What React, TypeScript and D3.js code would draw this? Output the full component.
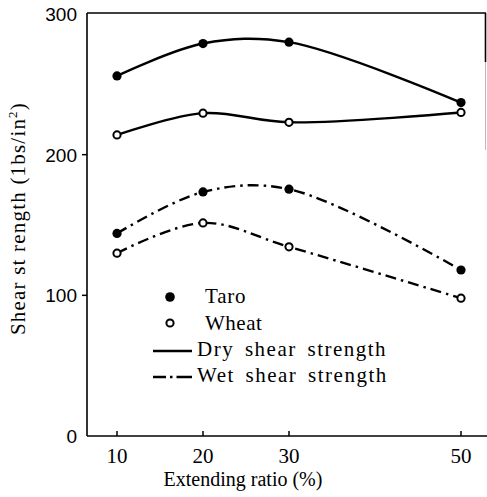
import React from "react";
import * as d3 from "d3";

const ratios = [10, 20, 30, 50];
const taroDry = [256, 279, 280, 237];
const wheatDry = [214, 229.5, 223, 230];
const taroWet = [144, 173.5, 175.5, 118];
const wheatWet = [130, 151.5, 134.5, 98];
const xTicks = [10, 20, 30, 50];
const yTicks = [0, 100, 200, 300];

const W = 487;
const H = 497;
const serif = "'Liberation Serif', 'DejaVu Serif', serif";
const sans = "'Liberation Sans', Arial, sans-serif";

export default function App() {
  const x = d3.scaleLinear().domain([10, 50]).range([117, 461]);
  const y = d3.scaleLinear().domain([0, 300]).range([436, 14]);
  const left = 87;
  const right = 486;
  const top = 13;
  const bottom = 436;

  const line = d3
    .line<[number, number]>()
    .x((d) => x(d[0]))
    .y((d) => y(d[1]))
    .curve(d3.curveCatmullRom.alpha(0.5));

  const pts = (vals: number[]) => ratios.map((r, i) => [r, vals[i]] as [number, number]);

  const series = [
    { vals: taroDry, filled: true, dash: null },
    { vals: wheatDry, filled: false, dash: null },
    { vals: taroWet, filled: true, dash: "11 5 2.5 5" },
    { vals: wheatWet, filled: false, dash: "11 5 2.5 5" },
  ];

  return (
    <svg width={W} height={H} style={{ position: "absolute", left: 0, top: 0, background: "#fff" }}>
      <rect x={0} y={0} width={W} height={H} fill="#fff" />
      {/* frame */}
      <line x1={left} y1={top} x2={right} y2={top} stroke="#000" strokeWidth={1.6} />
      <line x1={right - 0.5} y1={top} x2={right - 0.5} y2={62} stroke="#000" strokeWidth={1.6} />
      <line x1={right - 0.5} y1={62} x2={right - 0.5} y2={150} stroke="#bbb" strokeWidth={1} />
      <line x1={left} y1={top} x2={left} y2={bottom} stroke="#000" strokeWidth={1.6} />
      <line x1={left} y1={bottom} x2={W} y2={bottom} stroke="#000" strokeWidth={1.6} />

      {/* y ticks */}
      {yTicks.map((t) => (
        <g key={"y" + t}>
          {t > 0 && t < 300 && (
            <line x1={left - 5} x2={left} y1={y(t)} y2={y(t)} stroke="#000" strokeWidth={1.5} />
          )}
          <text
            x={77}
            y={y(t)}
            dy="0.36em"
            textAnchor="end"
            fontFamily={sans}
            fontSize={19}
            fill="#000"
          >
            {t}
          </text>
        </g>
      ))}

      {/* x ticks */}
      {xTicks.map((t) => (
        <g key={"x" + t}>
          <line x1={x(t)} x2={x(t)} y1={bottom} y2={bottom - 5} stroke="#000" strokeWidth={1.5} />
          <text x={x(t)} y={463} textAnchor="middle" fontFamily={serif} fontSize={21} fill="#000">
            {t}
          </text>
        </g>
      ))}

      {/* axis titles */}
      <text x={243} y={486} textAnchor="middle" fontFamily={serif} fontSize={20} fill="#000">
        Extending ratio (%)
      </text>
      <text
        transform={`translate(25, ${(90 + 347) / 2}) rotate(-90)`}
        textAnchor="middle"
        fontFamily={serif}
        fontSize={21}
        fill="#000"
        letterSpacing={1.2}
      >
        Shear st rength (1bs/in<tspan dy={-8} fontSize={13}>2</tspan>
        <tspan dy={8}>)</tspan>
      </text>

      {/* curves */}
      {series.map((s, i) => (
        <path
          key={"c" + i}
          d={line(pts(s.vals)) || ""}
          fill="none"
          stroke="#000"
          strokeWidth={2.4}
          strokeDasharray={s.dash || undefined}
        />
      ))}

      {/* markers */}
      {series.map((s, i) =>
        pts(s.vals).map((p, j) =>
          s.filled ? (
            <circle key={`m${i}-${j}`} cx={x(p[0])} cy={y(p[1])} r={4.6} fill="#000" />
          ) : (
            <circle
              key={`m${i}-${j}`}
              cx={x(p[0])}
              cy={y(p[1])}
              r={3.6}
              fill="#fff"
              stroke="#000"
              strokeWidth={2}
            />
          )
        )
      )}

      {/* legend */}
      <circle cx={170} cy={297} r={4.8} fill="#000" />
      <text x={205} y={303} fontFamily={serif} fontSize={21} fill="#000" letterSpacing={0.8}>
        Taro
      </text>
      <circle cx={170} cy={323} r={3.6} fill="#fff" stroke="#000" strokeWidth={2} />
      <text x={205} y={330} fontFamily={serif} fontSize={21} fill="#000" letterSpacing={0.5}>
        Wheat
      </text>
      <line x1={153} x2={192} y1={351} y2={351} stroke="#000" strokeWidth={2.4} />
      <text x={197} y={356} fontFamily={serif} fontSize={21} fill="#000" letterSpacing={1.5} wordSpacing={4}>
        Dry shear strength
      </text>
      <line x1={153} x2={192} y1={377} y2={377} stroke="#000" strokeWidth={2.4} strokeDasharray="13 4 2.5 4 20" />
      <text x={197} y={382} fontFamily={serif} fontSize={21} fill="#000" letterSpacing={1.5} wordSpacing={4}>
        Wet shear strength
      </text>
    </svg>
  );
}
